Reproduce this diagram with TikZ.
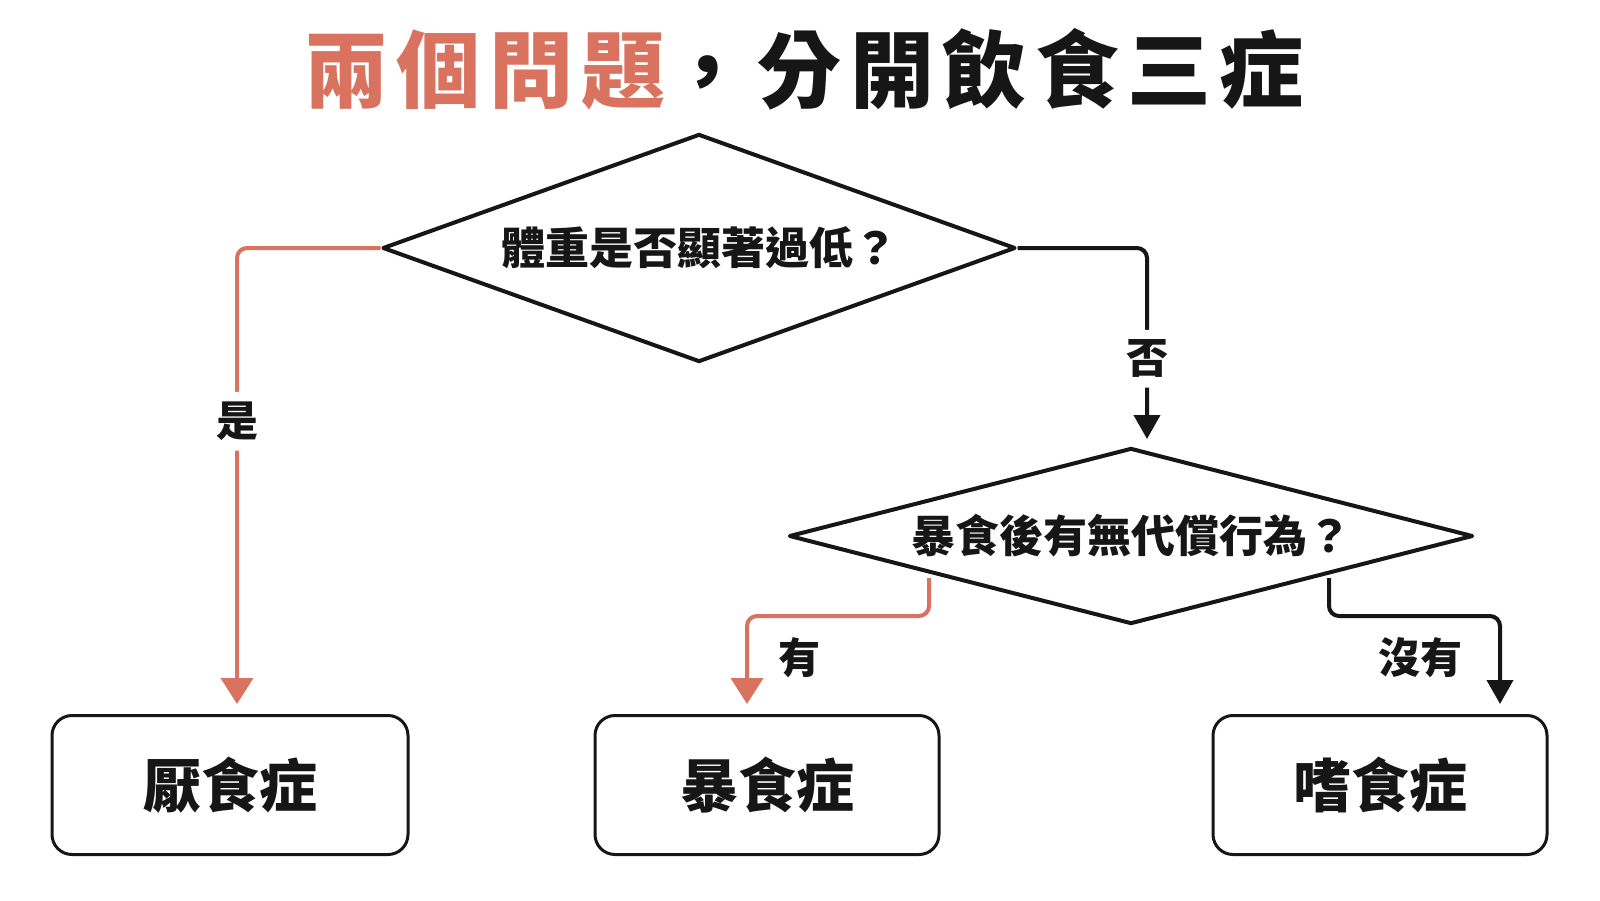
\documentclass[tikz,border=0pt]{standalone}
\usepackage{fontspec}
\usetikzlibrary{arrows.meta,shapes.geometric}
\newfontfamily\cjk{Noto Sans CJK TC}
\newfontfamily\cjktitle{Noto Sans CJK TC Black}[LetterSpace=10]
\definecolor{salmon}{HTML}{D9735F}
\definecolor{ink}{HTML}{161616}

\begin{document}
\begin{tikzpicture}[x=0.5pt, y=-0.5pt,
  decision/.style={diamond, draw=ink, line width=2pt, line join=round,
    inner sep=0pt, text=ink, font=\cjk\bfseries\fontsize{22}{26}\selectfont},
  result/.style={draw=ink, line width=1.5pt, rounded corners=10pt,
    minimum height=69.5pt, text=ink, font=\cjk\bfseries\fontsize{29}{34}\selectfont},
  branch/.style={text=ink, font=\cjk\bfseries\fontsize{21}{25}\selectfont},
  yesline/.style={draw=salmon, line width=2pt, rounded corners=5pt,
    -{Triangle[length=13pt,width=16pt]}},
  noline/.style={draw=ink, line width=2pt, rounded corners=5pt,
    -{Triangle[length=12pt,width=13pt]}}]
  \useasboundingbox[fill=white] (0,0) rectangle (1600,900);

  \node[font=\cjktitle\fontsize{42}{50}\selectfont] (title) at (804,69)
    {\textcolor{salmon}{兩個問題}\textcolor{ink}{，分開飲食三症}};

  \node[decision, aspect=2.79, minimum width=316.5pt, minimum height=114pt] (weight) at (699,248) {體重是否顯著過低？};
  \node[decision, aspect=3.89, minimum width=342pt, minimum height=88pt] (purge) at (1131,536) {暴食後有無代償行為？};

  \node[result, minimum width=178pt] (anorexia) at (230,785) {厭食症};
  \node[result, minimum width=172pt] (bingeeat) at (767,785) {暴食症};
  \node[result, minimum width=167pt] (bulimia) at (1380,785) {嗜食症};

  \coordinate (yesend) at (237,704);
  \coordinate (noend) at (1147,439);
  \coordinate (hasstart) at (929,578);
  \coordinate (hasend) at (747,704);
  \coordinate (nonestart) at (1329,578);
  \coordinate (noneend) at (1500,704);

  \draw[yesline] (weight.west) -| node[branch, pos=0.69, fill=white, inner sep=5pt] (yeslabel) {是} (yesend);
  \draw[noline] (weight.east) -| node[branch, pos=0.79, fill=white, inner sep=5pt] (nolabel) {否} (noend);
  \draw[yesline] (hasstart) -- ++(0,38) -| (hasend);
  \draw[noline] (nonestart) -- ++(0,38) -| (noneend);

  \node[branch] (haslabel) at (799,658) {有};
  \node[branch] (nonelabel) at (1420,658) {沒有};
\end{tikzpicture}
\end{document}
